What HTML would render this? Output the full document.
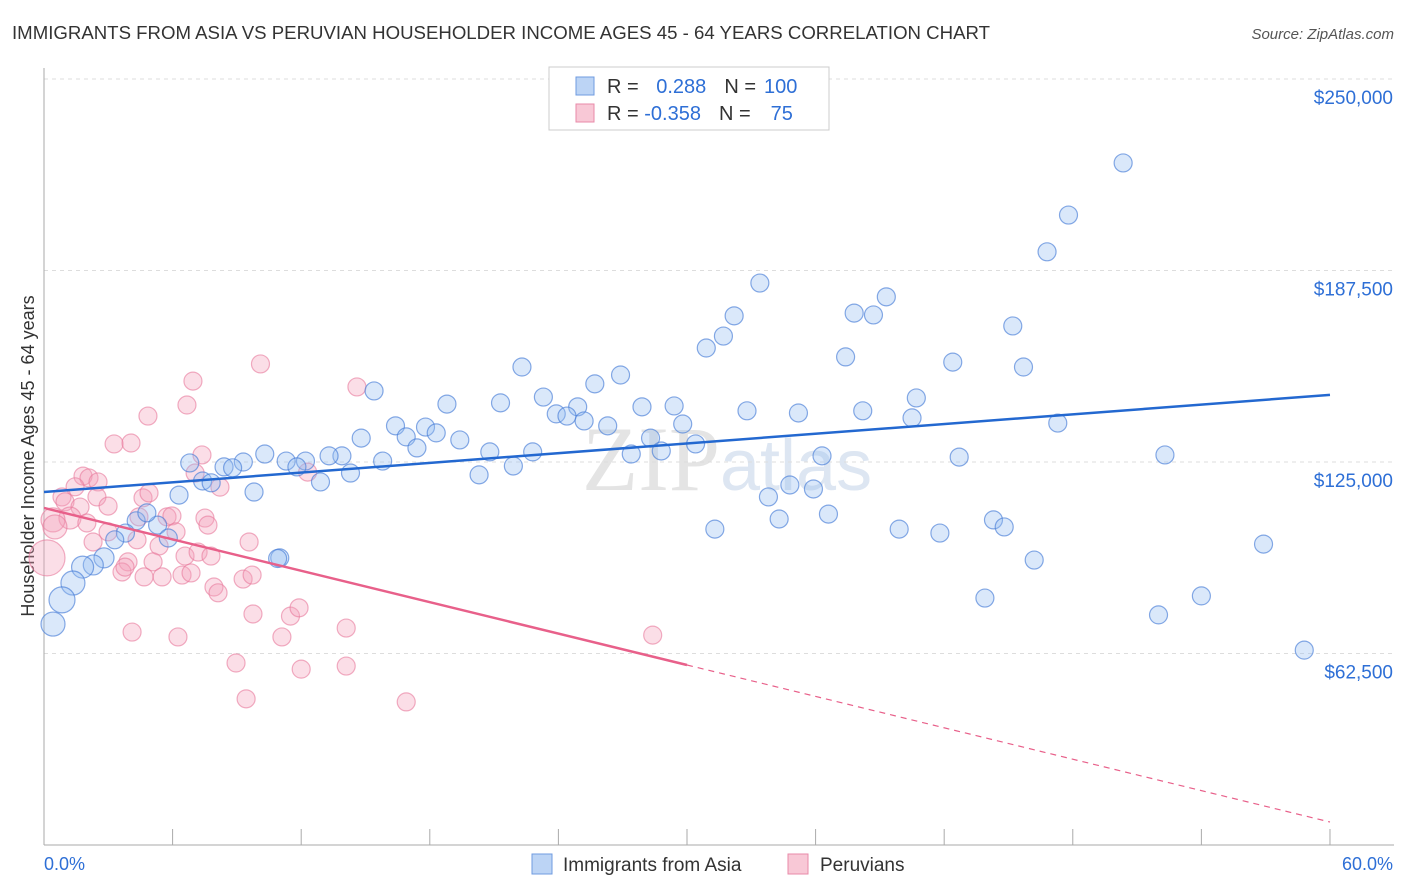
<!DOCTYPE html>
<html><head><meta charset="utf-8"><style>
body{margin:0;background:#fff;font-family:"Liberation Sans",sans-serif}
#wrap{position:relative;width:1406px;height:892px;overflow:hidden}
</style></head><body>
<div id="wrap">
<svg id="svg" width="1406" height="892" xmlns="http://www.w3.org/2000/svg">
<text x="12" y="39" font-size="18" fill="#333" textLength="978" lengthAdjust="spacingAndGlyphs">IMMIGRANTS FROM ASIA VS PERUVIAN HOUSEHOLDER INCOME AGES 45 - 64 YEARS CORRELATION CHART</text>
<text x="1394" y="39" font-size="15" fill="#555" text-anchor="end" font-style="italic">Source: ZipAtlas.com</text>
<text x="720" y="490" font-size="92" fill="#e4e4e4" text-anchor="end" font-family="Liberation Serif">ZIP</text>
<text x="720" y="490" font-size="72" fill="#dde6f2">atlas</text>
<text transform="translate(34,456) rotate(-90)" font-size="18" fill="#333" text-anchor="middle">Householder Income Ages 45 - 64 years</text>
<g id="grid"></g><g id="pts"></g><g id="lines"></g>
<g>
<rect x="549" y="67" width="280" height="63" fill="#fff" stroke="#ccc"/>
<rect x="576" y="77" width="18" height="18" fill="#bcd4f5" stroke="#6f9be0"/>
<rect x="576" y="104" width="18" height="18" fill="#f8c8d6" stroke="#e88aa8"/>
<text x="607" y="93" font-size="20" fill="#333">R = <tspan fill="#2e6fd6" dx="12">0.288</tspan><tspan dx="18" fill="#333">N =</tspan><tspan dx="8" fill="#2e6fd6">100</tspan></text>
<text x="607" y="120" font-size="20" fill="#333">R = <tspan fill="#2e6fd6">-0.358</tspan><tspan dx="18" fill="#333">N =</tspan><tspan dx="20" fill="#2e6fd6">75</tspan></text>
</g>
<g>
<rect x="532" y="854" width="20" height="20" fill="#bcd4f5" stroke="#6f9be0"/>
<text x="563" y="871" font-size="19" fill="#333">Immigrants from Asia</text>
<rect x="788" y="854" width="20" height="20" fill="#f8c8d6" stroke="#e88aa8"/>
<text x="820" y="871" font-size="19" fill="#333">Peruvians</text>
</g>
<text x="44" y="870" font-size="18" fill="#2e6fd6">0.0%</text>
<text x="1393" y="870" font-size="18" fill="#2e6fd6" text-anchor="end">60.0%</text>
</svg>
</div>
<script>
const yTicks=[62500,125000,187500,250000];
const yTickLabels=["$62,500","$125,000","$187,500","$250,000"];
const xTicks=[0,6,12,18,24,30,36,42,48,54,60];
const asiaX=[50.35,47.8,46.8,33.4,39.3,32.2,37.8,38.7,45.2,31.7,30.9,37.4,42.4,45.7,22.3,26.9,15.4,25.7,23.3,21.3,18.8,40.7,24.9,27.9,29.4,23.9,24.4,32.8,35.2,38.2,40.5,25.2,26.3,29.8,16.4,17.8,18.3,47.3,14.8,16.9,19.4,28.3,30.4,17.4,20.8,22.8,27.4,28.8,10.3,13.9,13.3,11.3,12.2,9.3,8.4,11.8,14.3,15.8,6.8,8.8,12.9,20.3,21.9,36.3,42.7,52.3,7.4,7.8,34.8,35.9,9.8,6.3,33.8,36.6,34.3,44.3,44.8,31.3,39.9,41.8,56.9,46.2,11.0,43.9,54.0,52.0,58.8,4.3,5.3,5.8,3.8,3.3,2.8,2.3,1.8,1.35,0.84,0.42,4.8,10.9];
const asiaY=[222.6,205.6,193.6,183.4,178.9,172.7,173.6,173.0,169.4,166.1,162.2,159.3,157.6,156.0,156.0,153.4,148.2,150.5,146.2,144.3,143.9,145.9,143.0,143.0,143.3,140.7,140.0,141.7,141.0,141.7,139.4,138.4,136.8,137.4,136.8,136.4,134.5,137.7,132.8,133.2,132.2,132.8,130.9,129.6,128.3,128.3,127.6,128.6,127.6,127.0,127.0,125.3,125.3,125.0,123.4,123.4,121.4,125.3,124.7,123.1,118.5,120.8,123.7,127.0,126.6,127.3,118.8,118.2,117.5,116.2,115.2,114.2,113.6,108.0,106.4,106.1,103.8,103.1,103.1,101.8,98.2,93.0,93.7,80.6,81.3,75.1,63.6,105.8,104.4,100.2,101.8,99.6,93.7,91.4,90.7,85.5,80.0,72.1,108.4,93.5];
const asiaSize=[9,9,9,9,9,9,9,9,9,9,9,9,9,9,9,9,9,9,9,9,9,9,9,9,9,9,9,9,9,9,9,9,9,9,9,9,9,9,9,9,9,9,9,9,9,9,9,9,9,9,9,9,9,9,9,9,9,9,9,9,9,9,9,9,9,9,9,9,9,9,9,9,9,9,9,9,9,9,9,9,9,9,9,9,9,9,9,9,9,9,9,9,10,10,11,12,13,12,9,9];
const peruX=[3.27,6.95,10.1,6.67,4.85,14.6,4.06,7.37,7.05,8.21,12.3,1.82,2.1,2.52,1.45,0.84,0.98,2.47,2.99,1.68,1.21,0.42,0.51,0.14,2.0,4.62,4.9,4.43,5.74,5.97,7.51,7.65,2.29,2.99,4.34,6.16,5.37,6.58,7.19,7.79,9.57,5.09,3.92,3.64,3.78,4.67,5.51,6.44,6.86,7.93,8.12,9.29,9.71,9.75,11.5,11.9,4.11,6.25,11.1,8.96,12.0,9.43,28.4,14.1,14.1,16.9];
const peruY=[130.9,151.4,157.0,143.6,140.0,149.5,131.2,127.3,121.4,116.8,121.7,120.4,119.8,118.5,116.9,113.6,112.0,113.6,110.6,110.3,106.7,106.1,103.8,93.7,105.1,113.3,114.9,107.1,107.1,107.4,106.7,104.4,98.9,102.2,99.6,102.2,97.6,94.3,95.6,94.3,98.9,92.4,92.4,89.1,90.7,87.5,87.5,88.1,88.8,84.2,82.3,86.8,88.1,75.4,74.7,77.4,69.5,67.9,67.9,59.4,57.4,47.7,68.5,70.8,58.4,46.7];
const peruSize=[9,9,9,9,9,9,9,9,9,9,9,9,9,9,9,9,9,9,9,9,11,12,12,18,9,9,9,9,9,9,9,9,9,9,9,9,9,9,9,9,9,9,9,9,9,9,9,9,9,9,9,9,9,9,9,9,9,9,9,9,9,9,9,9,9,9];
const asiaTrend=[115.2,146.9];
const peruTrend=[110.0,7.5];
const peruSolidEnd=30;
const X=p=>44+p*21.433;
const Y=v=>845-v/62500*191.5;
const NS="http://www.w3.org/2000/svg";
function mk(t,a,parent){const e=document.createElementNS(NS,t);for(const k in a)e.setAttribute(k,a[k]);parent.appendChild(e);return e;}
const grid=document.getElementById('grid');
yTicks.forEach((v,i)=>{
 const l=mk('line',{x1:44,x2:1394,y1:Y(v),y2:Y(v),stroke:'#ddd','stroke-dasharray':'4,4'},grid);
 
 
 const t=mk('text',{x:1393,y:Y(v)+25,'font-size':19,fill:'#2e6fd6','text-anchor':'end'},grid);
 t.textContent=yTickLabels[i];
 
 
});
const ax=mk('line',{x1:44,x2:44,y1:68,y2:845,stroke:'#aaa'},grid);


const bx=mk('line',{x1:44,x2:1394,y1:845,y2:845,stroke:'#aaa'},grid);


xTicks.forEach(p=>{
 const t=mk('line',{x1:X(p),x2:X(p),y1:829,y2:845,stroke:'#aaa'},grid);
 
 
});
const pts=document.getElementById('pts');
peruX.forEach((p,i)=>{
 const c=mk('circle',{cx:X(p),cy:Y(peruY[i]*1000),r:peruSize[i],fill:'rgba(244,160,186,0.35)',stroke:'rgba(232,120,155,0.6)','stroke-width':1.2},pts);
 
 
});
asiaX.forEach((p,i)=>{
 const c=mk('circle',{cx:X(p),cy:Y(asiaY[i]*1000),r:asiaSize[i],fill:'rgba(150,190,240,0.35)',stroke:'rgba(70,125,215,0.65)','stroke-width':1.2},pts);
 
 
});
const lines=document.getElementById('lines');
const bl=mk('line',{x1:X(0),y1:Y(asiaTrend[0]*1000),x2:X(60),y2:Y(asiaTrend[1]*1000),stroke:'#2368d0','stroke-width':2.5},lines);


const pv=p=>peruTrend[0]+(peruTrend[1]-peruTrend[0])*p/60;
const pl=mk('line',{x1:X(0),y1:Y(pv(0)*1000),x2:X(peruSolidEnd),y2:Y(pv(peruSolidEnd)*1000),stroke:'#e8608a','stroke-width':2.5},lines);


const pd=mk('line',{x1:X(peruSolidEnd),y1:Y(pv(peruSolidEnd)*1000),x2:X(60),y2:Y(pv(60)*1000),stroke:'#e8608a','stroke-width':1.2,'stroke-dasharray':'6,5'},lines);


</script>
</body></html>
